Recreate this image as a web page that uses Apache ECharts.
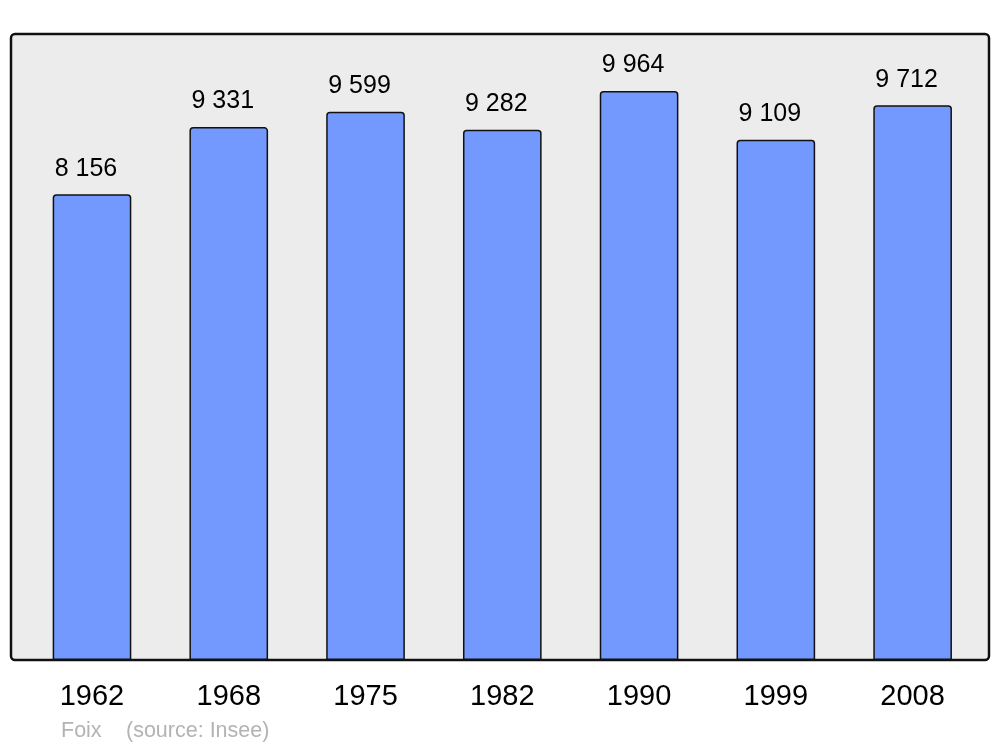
<!DOCTYPE html>
<html><head><meta charset="utf-8">
<script src="https://cdn.jsdelivr.net/npm/echarts@6/dist/echarts.min.js"></script>
<style>html,body{margin:0;padding:0;background:#fff}#c{width:1000px;height:747px}</style>
</head><body><div id="c"></div>
<script>
const years = ['1962','1968','1975','1982','1990','1999','2008'];
const population = [8156, 9331, 9599, 9282, 9964, 9109, 9712];
const townName = 'Foix';
const sourceText = '(source: Insee)';

const chart = echarts.init(document.getElementById('c'), null, {renderer:'canvas'});
const fmt = v => String(v).replace(/\B(?=(\d{3})+(?!\d))/g, ' ');
chart.setOption({
  animation:false,
  backgroundColor:'#ffffff',
  textStyle:{fontFamily:'Liberation Sans, Arial, sans-serif'},
  graphic:[
    {type:'rect', z:-10, shape:{x:11,y:34,width:978,height:626,r:4},
     style:{fill:'#ececec', stroke:'#111', lineWidth:2.5}},
    {type:'text', left:61, top:720, style:{text:townName, fill:'#b3b3b3', font:'21.5px Liberation Sans, Arial, sans-serif'}},
    {type:'text', left:126, top:720, style:{text:sourceText, fill:'#b3b3b3', font:'21.5px Liberation Sans, Arial, sans-serif'}}
  ],
  grid:{left:23.6, right:19, top:34, bottom:87, containLabel:false},
  xAxis:{type:'category', data:years, axisLine:{show:false}, axisTick:{show:false},
    axisLabel:{color:'#000', fontSize:29, margin:22, fontFamily:'Liberation Sans, Arial, sans-serif'}},
  yAxis:{type:'value', min:0, max:10960, show:false, splitLine:{show:false}},
  series:[{type:'bar', data:population, barWidth:'57.5%',
    itemStyle:{color:'#7399ff', borderColor:'#111', borderWidth:1.5, borderRadius:[3,3,0,0]},
    label:{show:true, position:'top', distance:13, offset:[-6,0], color:'#000', fontSize:25,
      fontFamily:'Liberation Sans, Arial, sans-serif', formatter:p=>fmt(p.value)}
  }]
});
</script></body></html>
